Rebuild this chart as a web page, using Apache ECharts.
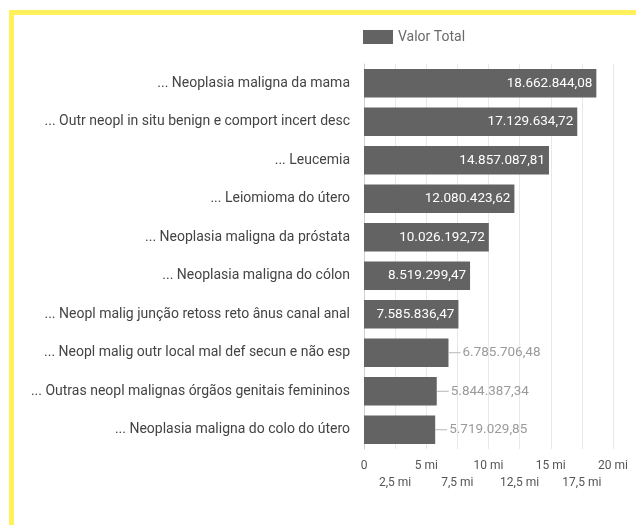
<!DOCTYPE html>
<html>
<head>
<meta charset="utf-8">
<script src="https://cdn.jsdelivr.net/npm/echarts@6/dist/echarts.min.js"></script>
<style>
  html, body { margin: 0; padding: 0; background: #fff; overflow: hidden; }
  #chart { position: absolute; left: 0; top: 0; width: 636px; height: 525px; }
  #frame {
    position: absolute; left: 9px; top: 10px; width: 800px; height: 700px;
    border-left: 5px solid #fff05c; border-top: 5px solid #fff05c;
    pointer-events: none;
  }
</style>
</head>
<body>
<div id="chart"></div>
<div id="frame"></div>
<script>
// Procedures ranked by total amount (R$)
const categories = [
  '... Neoplasia maligna da mama',
  '... Outr neopl in situ benign e comport incert desc',
  '... Leucemia',
  '... Leiomioma do útero',
  '... Neoplasia maligna da próstata',
  '... Neoplasia maligna do cólon',
  '... Neopl malig junção retoss reto ânus canal anal',
  '... Neopl malig outr local mal def secun e não esp',
  '... Outras neopl malignas órgãos genitais femininos',
  '... Neoplasia maligna do colo do útero'
];
const valorTotal = [
  18662844.08, 17129634.72, 14857087.81, 12080423.62, 10026192.72,
  8519299.47, 7585836.47, 6785706.48, 5844387.34, 5719029.85
];
const seriesName = 'Valor Total';
const axisMin = 0;
const axisMax = 20000000;
const axisStep = 2500000;
// Bars shorter than this get their value printed outside
const insideLabelMin = 7000000;

function formatBR(v) {
  const parts = v.toFixed(2).split('.');
  const intPart = parts[0].replace(/\B(?=(\d{3})+(?!\d))/g, '.');
  return intPart + ',' + parts[1];
}

function formatMi(v) {
  if (v === 0) return '0';
  const mi = v / 1000000;
  return String(mi).replace('.', ',') + ' mi';
}

const barData = valorTotal.map(function (v) {
  if (v >= insideLabelMin) return { value: v };
  return {
    value: v,
    label: {
      position: 'right',
      distance: 0,
      color: '#9a9a9a',
      formatter: function (p) { return '{ln|}{v|' + formatBR(p.value) + '}'; },
      rich: {
        ln: { width: 12, height: 1, backgroundColor: '#b5b5b5' },
        v: { color: '#9a9a9a', fontSize: 13.5, fontFamily: 'Roboto', padding: [0, 0, 0, 2] }
      }
    }
  };
});

// Tick labels alternate between two rows: whole steps on top, half steps below
function tickAxis(row, margin) {
  return {
    type: 'value',
    min: axisMin,
    max: axisMax,
    interval: axisStep,
    position: 'bottom',
    axisLine: { show: false },
    axisTick: { show: false },
    splitLine: { show: row === 0, lineStyle: { color: '#e8e8e8', width: 1 } },
    axisLabel: {
      showMinLabel: true,
      showMaxLabel: true,
      hideOverlap: false,
      color: '#555',
      fontSize: 12,
      fontFamily: 'Roboto',
      margin: margin,
      formatter: function (value) {
        const half = Math.round(value / axisStep) % 2;
        return half === row ? formatMi(value) : '';
      }
    }
  };
}

const chart = echarts.init(document.getElementById('chart'), null, { renderer: 'canvas' });
chart.setOption({
  backgroundColor: '#ffffff',
  animation: false,
  textStyle: { fontFamily: 'Roboto' },
  legend: {
    data: [seriesName],
    left: 358,
    top: 25,
    itemWidth: 30,
    itemHeight: 14,
    itemGap: 10,
    icon: 'rect',
    textStyle: { color: '#6a6a6a', fontSize: 14, fontFamily: 'Roboto' }
  },
  grid: { left: 364, right: 23, top: 64, bottom: 76, containLabel: false },
  xAxis: [tickAxis(0, 11), tickAxis(1, 28)],
  yAxis: {
    type: 'category',
    inverse: true,
    data: categories,
    axisLine: { show: true, lineStyle: { color: '#cfcfcf' } },
    axisTick: { show: false },
    axisLabel: { color: '#444', fontSize: 14, fontFamily: 'Roboto', margin: 14 }
  },
  series: [{
    name: seriesName,
    type: 'bar',
    xAxisIndex: 0,
    data: barData,
    barCategoryGap: '26%',
    itemStyle: { color: '#636363' },
    label: {
      show: true,
      position: 'insideRight',
      distance: 4,
      color: '#ffffff',
      fontSize: 13.5,
      fontFamily: 'Roboto',
      formatter: function (p) { return formatBR(p.value); }
    }
  }]
});
</script>
</body>
</html>
